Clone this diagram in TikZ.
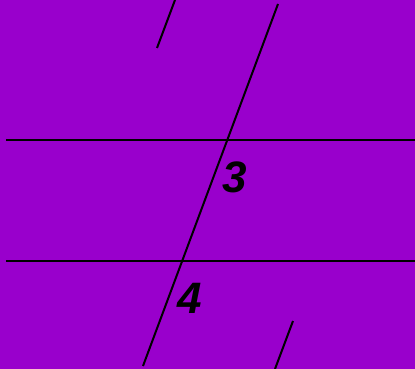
\documentclass[tikz,border=0pt]{standalone}
\usepackage{fontspec}
\setsansfont{Liberation Sans}
\usetikzlibrary{positioning}
\definecolor{bgpurple}{RGB}{153, 0, 204}
\tikzset{line/.style={draw=black, line width=2pt}}
\tikzset{anglelabel/.style={font=\fontsize{44}{44}\selectfont\sffamily\bfseries\itshape, inner sep=0pt}}

\begin{document}
\begin{tikzpicture}[x=1pt, y=-1pt]
        \begin{scope}
            \fill[bgpurple] (0, 0) rectangle (415, 369);
            \useasboundingbox (0, 0) rectangle (415, 369);

            \coordinate (L1a) at (6, 139.5);
            \coordinate (L1b) at (415, 139.5);
            \coordinate (L2a) at (6, 260.5);
            \coordinate (L2b) at (415, 260.5);

            \coordinate (Ttop) at (278, 4);
            \coordinate (Tbot) at (143, 366);

            \coordinate (S1a) at (175, 0);
            \coordinate (S1b) at (157, 48);
            \coordinate (S2a) at (293, 321);
            \coordinate (S2b) at (275, 369);

            \node[anglelabel] (N3) at (235, 177) {3};
            \node[anglelabel] (N4) at (190, 298) {4};

            \draw [line] (L1a) -- (L1b);
            \draw [line] (L2a) -- (L2b);
            \draw [line] (Ttop) -- (Tbot);
            \draw [line] (S1a) -- (S1b);
            \draw [line] (S2a) -- (S2b);
        \end{scope}
    \end{tikzpicture}
\end{document}
